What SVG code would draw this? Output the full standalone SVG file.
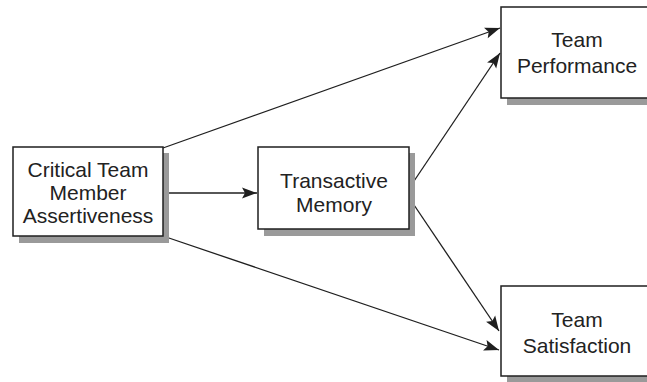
<svg xmlns="http://www.w3.org/2000/svg" width="647" height="382" viewBox="0 0 647 382">
  <style>
    .shadow { fill: #9a9a9a; }
    .box { fill: #ffffff; stroke: #1f1f1f; stroke-width: 1.5; }
    .label { font-family: "Liberation Sans", Arial, sans-serif; font-size: 21px; fill: #222222; text-anchor: middle; }
    .edge { stroke: #1f1f1f; stroke-width: 1.3; fill: none; marker-end: url(#arrow); }
  </style>
  <defs>
    <marker id="arrow" markerUnits="userSpaceOnUse" markerWidth="18" markerHeight="14" viewBox="-16 -7 18 14" refX="0" refY="0" orient="auto">
      <path d="M0,0 L-15,-5.5 L-12,0 L-15,5.5 Z" fill="#1f1f1f"/>
    </marker>
  </defs>

  <rect width="647" height="382" fill="#ffffff"/>

  <g id="connectors">
    <line class="edge" x1="163" y1="148" x2="500" y2="28"/>
    <line class="edge" x1="163" y1="193" x2="257" y2="193"/>
    <line class="edge" x1="163" y1="236" x2="499" y2="350"/>
    <line class="edge" x1="410" y1="187" x2="500" y2="53"/>
    <line class="edge" x1="410" y1="199" x2="499" y2="331"/>
  </g>

  <g id="critical-team-member-assertiveness">
    <rect class="shadow" x="19" y="153" width="150" height="90"/>
    <rect class="box" x="13" y="147" width="150" height="89"/>
    <text class="label" x="88" y="177">Critical Team</text>
    <text class="label" x="88" y="200">Member</text>
    <text class="label" x="88" y="223">Assertiveness</text>
  </g>

  <g id="transactive-memory">
    <rect class="shadow" x="264" y="153" width="151" height="83"/>
    <rect class="box" x="258" y="147" width="151" height="82"/>
    <text class="label" x="334" y="188">Transactive</text>
    <text class="label" x="334" y="212">Memory</text>
  </g>

  <g id="team-performance">
    <rect class="shadow" x="507" y="13" width="150" height="92"/>
    <rect class="box" x="501" y="7" width="152" height="91"/>
    <text class="label" x="577" y="47">Team</text>
    <text class="label" x="577" y="73">Performance</text>
  </g>

  <g id="team-satisfaction">
    <rect class="shadow" x="507" y="292" width="150" height="92"/>
    <rect class="box" x="501" y="286" width="152" height="90"/>
    <text class="label" x="577" y="327">Team</text>
    <text class="label" x="577" y="353">Satisfaction</text>
  </g>
</svg>
